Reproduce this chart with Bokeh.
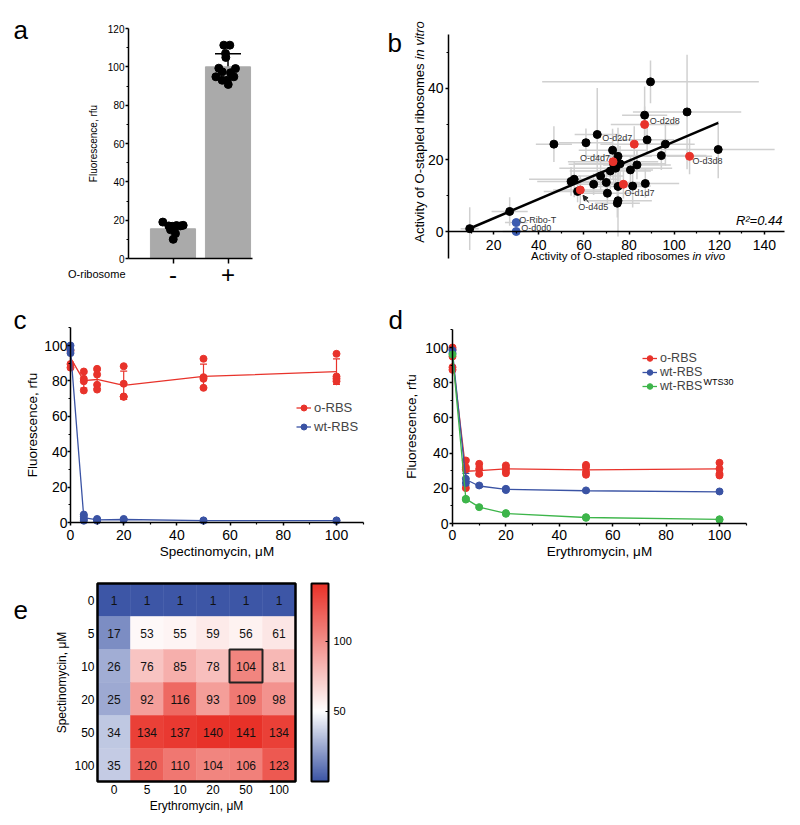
import numpy as np
from bokeh.plotting import figure
from bokeh.layouts import column, row
from bokeh.models import (Range1d, ColumnDataSource, Whisker, TeeHead, Label, Legend,
                          LegendItem, LinearColorMapper, ColorBar, FixedTicker, Arrow, NormalHead)
from bokeh.transform import transform
from bokeh.core.properties import value
from bokeh.embed import file_html
from bokeh.resources import INLINE

FONT = "Liberation Sans"
RED = "#e8332b"
BLUE = "#3a53a4"
GREEN = "#3db54a"
BAR_GREY = "#aaaaaa"
ERR_GREY = "#d0d0d0"

# ---------------- data: panel a ----------------
a_groups = ["-", "+"]
a_mean = [15.5, 100.0]
a_sd = [2.8, 6.8]
a_minus_vals = [19.0, 17.0, 16.8, 17.2, 17.0, 17.3, 15.0, 16.0, 13.0, 10.0]
a_minus_jit = [-0.185, -0.076, -0.015, 0.064, 0.136, 0.185, -0.045, 0.02, 0.045, 0.004]
a_plus_vals = [111.3, 111.3, 107.0, 104.9, 99.3, 99.1, 97.4, 96.9, 94.8, 94.8, 93.0, 93.0, 90.8]
a_plus_jit = [-0.076, 0.033, -0.045, -0.04, -0.167, 0.136, -0.106, 0.045, -0.22, 0.106, -0.015, -0.106, 0.004]

# ---------------- data: panel b ----------------
b_x = [9.4, 27.1, 46.7, 54.3, 55.7, 57.2, 60.9, 64.3, 65.9, 67.4, 69.9, 70.4, 71.7, 72.7, 73.2, 74.1,
       75.1, 75.1, 75.1, 74.8, 76.0, 80.6, 81.6, 83.5, 86.9, 88.0, 87.2, 89.5, 94.3, 96.1, 105.7, 119.5]
b_y = [0.8, 5.6, 24.4, 14.0, 14.6, 11.2, 24.8, 13.2, 27.1, 15.5, 13.7, 10.7, 16.9, 22.7, 18.8, 17.7,
       21.0, 12.6, 8.6, 7.9, 18.9, 17.2, 12.7, 18.6, 32.5, 25.6, 13.4, 41.8, 21.2, 24.4, 33.4, 22.9]
b_xerr = [4, 8, 8, 15, 20, 15, 12, 12, 10, 10, 15, 12, 18, 15, 20, 25,
          15, 12, 15, 10, 20, 10, 8, 15, 10, 12, 15, 48, 20, 13, 24, 25]
b_yerr = [6, 4, 5, 4, 5, 3, 4, 3, 13, 4, 4, 3, 5, 6, 5, 6,
          8, 4, 10, 4, 5, 4, 6, 4, 8, 4, 4, 6, 4, 6, 16, 8]
b_red_names = ["O-d4d5", "O-d4d7", "O-d1d7", "O-d2d7", "O-d2d8", "O-d3d8"]
b_red_x = [58.4, 72.9, 77.5, 82.3, 86.9, 106.8]
b_red_y = [11.6, 19.5, 13.2, 24.4, 29.9, 21.0]
b_red_xerr = [12, 20, 10, 15, 15, 10]
b_red_yerr = [4, 5, 4, 5, 5, 5]
b_blue_names = ["O-Ribo-T", "O-d0d0"]
b_blue_x = [30.0, 30.0]
b_blue_y = [2.5, 0.0]
b_blue_xerr = [5, 6]
b_blue_yerr = [1, 0]
b_fit_slope = 0.268
b_fit_intercept = -1.68
b_r2 = 0.44

# ---------------- data: panel c ----------------
c_conc = [0, 5, 10, 20, 50, 100]
c_orbs_reps = [[97.0, 89.5, 87.5], [85.3, 81.2, 79.8, 74.6], [86.8, 83.6, 77.8, 75.1],
               [88.3, 78.4, 71.2, 71.0], [92.5, 82.1, 81.2, 76.1], [95.3, 82.5, 81.2, 79.8]]
c_orbs_mean = [93.0, 80.2, 80.8, 77.5, 82.5, 85.2]
c_orbs_sd = [4.5, 4.2, 5.0, 8.0, 7.0, 7.2]
c_wt_reps = [[100.0, 97.6, 95.7], [4.5, 3.5, 2.0, 1.0], [2.0, 1.5, 1.0], [2.0, 1.5], [1.2, 1.0], [1.2, 1.0]]
c_wt_mean = [97.8, 2.8, 1.5, 1.7, 1.1, 1.1]
c_wt_sd = [2.2, 1.5, 0.5, 0.4, 0.2, 0.2]

# ---------------- data: panel d ----------------
d_conc = [0, 5, 10, 20, 50, 100]
d_orbs_reps = [[100.0, 99.0, 94.9, 88.8, 87.3], [35.8, 32.0, 30.7, 20.1], [33.9, 31.0, 28.2],
               [33.0, 31.6, 30.1, 28.6], [33.3, 32.0, 29.2, 27.7], [34.5, 31.1, 28.2, 27.3]]
d_orbs_mean = [94.0, 29.7, 30.0, 31.0, 30.5, 31.0]
d_orbs_sd = [5.5, 6.7, 2.5, 2.0, 2.5, 3.0]
d_wt_reps = [[98.3, 96.8], [25.4, 23.0], [21.6], [19.7, 19.0], [18.8], [18.2]]
d_wt_mean = [97.5, 25.0, 21.3, 19.4, 18.6, 18.0]
d_wt_sd = [1.0, 3.5, 0.8, 1.2, 0.6, 0.5]
d_wts_reps = [[96.0], [14.0, 13.6], [9.3], [5.9, 5.5], [3.6, 3.2], [2.4, 2.1]]
d_wts_mean = [96.0, 14.0, 9.3, 5.7, 3.4, 2.3]
d_wts_sd = [1.0, 0.8, 0.6, 0.5, 0.4, 0.3]

# ---------------- data: panel e ----------------
e_ery = ["0", "5", "10", "20", "50", "100"]
e_spec = ["0", "5", "10", "20", "50", "100"]
e_vals = [[1, 1, 1, 1, 1, 1],
          [17, 53, 55, 59, 56, 61],
          [26, 76, 85, 78, 104, 81],
          [25, 92, 116, 93, 109, 98],
          [34, 134, 137, 140, 141, 134],
          [35, 120, 110, 104, 106, 123]]
e_highlight = ("50", "10")
e_cb_low, e_cb_mid, e_cb_high = 0, 50, 141
e_cb_ticks = [50, 100]


# ---------------- helpers ----------------
class Panel:
    """figure box (page px) + linear px mapping of data -> page px"""

    def __init__(self, box, xmap, ymap):
        self.x0, self.y0, self.w, self.h = box
        self.ax, self.bx = xmap
        self.ay, self.by = ymap
        self.p = figure(width=self.w, height=self.h,
                        x_range=Range1d((self.x0 - self.ax) / self.bx, (self.x0 + self.w - self.ax) / self.bx),
                        y_range=Range1d((self.ay - (self.y0 + self.h)) / self.by, (self.ay - self.y0) / self.by),
                        output_backend="svg", toolbar_location=None, min_border=0,
                        min_border_left=0, min_border_right=0, min_border_top=0, min_border_bottom=0)
        p = self.p
        p.xgrid.visible = False
        p.ygrid.visible = False
        p.outline_line_color = None
        p.xaxis.fixed_location = 0
        p.yaxis.fixed_location = 0
        for ax in p.axis:
            ax.axis_line_color = "black"
            ax.axis_line_width = 1.5
            ax.major_tick_line_color = "black"
            ax.major_tick_line_width = 1.5
            ax.minor_tick_line_color = "black"
            ax.minor_tick_line_width = 1.2
            ax.major_tick_in = 0
            ax.minor_tick_in = 0
            ax.major_label_text_font = FONT
            ax.axis_label_text_font = FONT
            ax.axis_label_text_font_style = "normal"
            ax.major_label_text_color = "black"
            ax.axis_label_text_color = "black"

    def sx(self, img_x):
        return int(round(img_x - self.x0))

    def sy(self, img_y):
        return int(round(self.y0 + self.h - img_y))

    def label(self, img_x, img_y, text, size, align="left", baseline="middle", style="normal", angle=0.0,
              color="black"):
        self.p.add_layout(Label(x=self.sx(img_x), y=self.sy(img_y), x_units="screen", y_units="screen",
                                text=text, text_font=FONT, text_font_size=size, text_align=align,
                                text_baseline=baseline, text_font_style=style, angle=angle,
                                text_color=color))

    def letter(self, img_x, img_y, txt):
        self.label(img_x, img_y, txt, "26px", align="left", baseline="alphabetic")


def flatten(conc, reps):
    xs, ys = [], []
    for c, r in zip(conc, reps):
        for v in r:
            xs.append(c)
            ys.append(v)
    return xs, ys


# ---------------- panel a ----------------
A = Panel((0, 0, 380, 290), (117.5, 55.0), (258.0, 230.0 / 120.0))
fa = A.p
a_pos = list(range(1, len(a_groups) + 1))
a_axis_x = 0.191
fa.vbar(x=a_pos, top=a_mean, width=0.82, color=BAR_GREY)
fa.scatter(x=[a_pos[0] + j for j in a_minus_jit], y=a_minus_vals, size=8, color="black")
fa.scatter(x=[a_pos[1] + j for j in a_plus_jit], y=a_plus_vals, size=8, color="black")
a_src = ColumnDataSource(dict(x=a_pos, lo=[m - s for m, s in zip(a_mean, a_sd)],
                              hi=[m + s for m, s in zip(a_mean, a_sd)]))
fa.add_layout(Whisker(base="x", lower="lo", upper="hi", source=a_src, line_color="black", line_width=1.5,
                      upper_head=TeeHead(size=26, line_color="black", line_width=1.5),
                      lower_head=TeeHead(size=26, line_color="black", line_width=1.5)))
fa.yaxis.fixed_location = a_axis_x
fa.yaxis.bounds = (0, 120)
fa.xaxis.bounds = (a_axis_x, 2.445)
fa.yaxis.ticker = FixedTicker(ticks=list(range(0, 121, 20)), minor_ticks=list(range(10, 120, 20)))
fa.yaxis.axis_label = "Fluorescence, rfu"
fa.yaxis.axis_label_text_font_size = "10px"
fa.yaxis.major_label_text_font_size = "10px"
fa.yaxis.major_tick_out = 3
fa.yaxis.minor_tick_out = 2
fa.yaxis.major_label_standoff = 1
fa.yaxis.axis_label_standoff = 6
fa.xaxis.ticker = FixedTicker(ticks=a_pos, minor_ticks=[])
fa.xaxis.major_label_overrides = {p: g for p, g in zip(a_pos, a_groups)}
fa.xaxis.major_label_text_font_size = "24px"
fa.xaxis.major_tick_out = 5
fa.xaxis.major_label_standoff = 2
A.label(125, 273, "O-ribosome", "11px", align="right")
A.letter(13, 29, "a")

# ---------------- panel b ----------------
B = Panel((380, 0, 420, 290), (448.0, 2.257), (231.0, 3.58))
fb = B.p
all_x = np.array(b_x + b_red_x + b_blue_x)
all_y = np.array(b_y + b_red_y + b_blue_y)
all_xe = np.array(b_xerr + b_red_xerr + b_blue_xerr)
all_ye = np.array(b_yerr + b_red_yerr + b_blue_yerr)
fb.segment(x0=all_x - all_xe, x1=all_x + all_xe, y0=all_y, y1=all_y, line_color=ERR_GREY, line_width=1.5)
fb.segment(x0=all_x, x1=all_x, y0=all_y - all_ye, y1=all_y + all_ye, line_color=ERR_GREY, line_width=1.5)
fit_x = np.array([min(b_x), max(b_x)])
fb.line(x=fit_x, y=b_fit_slope * fit_x + b_fit_intercept, line_color="black", line_width=2.5)
fb.scatter(x=b_x, y=b_y, size=8, color="black")
fb.scatter(x=b_red_x, y=b_red_y, size=8, color=RED)
fb.scatter(x=b_blue_x, y=b_blue_y, size=8, color="#3b5bb0")
lab_src = ColumnDataSource(dict(
    x=b_red_x + b_blue_x, y=b_red_y + b_blue_y, text=b_red_names + b_blue_names,
    dx=[13, -3, 1, -2, 5, 3, 3, 5],
    dy=[17, -4, 9, -6, -3, 5, -3, -4],
    align=["center", "right", "left", "right", "left", "left", "left", "left"]))
fb.text(x="x", y="y", text="text", x_offset="dx", y_offset="dy", text_align="align",
        text_baseline="middle", text_font=value(FONT), text_font_size="9px", text_color="#333333",
        source=lab_src)
fb.add_layout(Arrow(end=NormalHead(size=5, fill_color="#222222", line_color="#222222"),
                    x_start=b_red_x[0] + 3.7, y_start=b_red_y[0] - 3.5,
                    x_end=b_red_x[0] + 1.2, y_end=b_red_y[0] - 1.5, line_width=1, line_color="#222222"))
fb.xaxis.bounds = (0, 149)
fb.yaxis.bounds = (-7.5, 55)
fb.xaxis.ticker = FixedTicker(ticks=list(range(20, 141, 20)), minor_ticks=list(range(10, 140, 20)))
fb.yaxis.ticker = FixedTicker(ticks=[0, 20, 40], minor_ticks=[10, 30, 50])
for ax in fb.axis:
    ax.major_label_text_font_size = "14px"
    ax.major_tick_out = 3
    ax.minor_tick_out = 2
fb.xaxis.major_label_standoff = 5
fb.yaxis.major_label_standoff = 2
B.label(419, 63, "Activity of O-stapled ribosomes", "13px", align="right", angle=np.pi / 2)
B.label(419, 59, "in vitro", "13px", align="left", style="italic", angle=np.pi / 2)
B.label(689, 255, "Activity of O-stapled ribosomes", "11.5px", align="right")
B.label(692, 255, "in vivo", "11.5px", align="left", style="italic")
B.label(782, 220, f"R\u00b2={b_r2:.2f}", "13px", align="right", style="italic")
B.letter(387, 42, "b")


# ---------------- panels c, d ----------------
def dose_panel(box, xmap, ymap, xlabel, series, legend_img, row_h, leg_font, lab_standoffs):
    P = Panel(box, xmap, ymap)
    p = P.p
    items = []
    for name, color, conc, reps, mean, sd in series:
        ln = p.line(x=conc, y=mean, line_color=color, line_width=1.3)
        xs, ys = flatten(conc, reps)
        sc = p.scatter(x=xs, y=ys, size=7, color=color)
        src = ColumnDataSource(dict(x=conc, lo=[m - s for m, s in zip(mean, sd)],
                                    hi=[m + s for m, s in zip(mean, sd)]))
        p.add_layout(Whisker(base="x", lower="lo", upper="hi", source=src, line_color=color, line_width=1.2,
                             upper_head=TeeHead(size=7, line_color=color, line_width=1.2),
                             lower_head=TeeHead(size=7, line_color=color, line_width=1.2)))
        items.append(LegendItem(label=name, renderers=[ln, sc]))
    p.xaxis.bounds = (0, 110)
    p.yaxis.bounds = (0, 110)
    p.xaxis.ticker = FixedTicker(ticks=list(range(0, 101, 20)), minor_ticks=list(range(10, 111, 20)))
    p.yaxis.ticker = FixedTicker(ticks=list(range(0, 101, 20)), minor_ticks=list(range(10, 111, 20)))
    for ax in p.axis:
        ax.major_label_text_font_size = "14px"
        ax.axis_label_text_font_size = "13.5px"
        ax.major_tick_out = 3
        ax.minor_tick_out = 2
    xs_lab, ys_lab, xs_tit, ys_tit = lab_standoffs
    p.xaxis.major_label_standoff = xs_lab
    p.yaxis.major_label_standoff = ys_lab
    p.xaxis.axis_label = xlabel
    p.yaxis.axis_label = "Fluorescence, rfu"
    p.xaxis.axis_label_standoff = xs_tit
    p.yaxis.axis_label_standoff = ys_tit
    n = len(items)
    leg = Legend(items=items, location=(P.sx(legend_img[0]), P.sy(legend_img[1] + n * row_h)),
                 border_line_color=None, background_fill_alpha=0,
                 label_text_font=FONT, label_text_font_size=leg_font, label_text_line_height=1.0,
                 glyph_width=15, glyph_height=row_h, label_height=row_h, label_standoff=3,
                 spacing=0, padding=0, margin=0)
    p.add_layout(leg)
    return P


C = dose_panel((0, 290, 385, 280), (70.0, 2.66), (522.0, 1.77), "Spectinomycin, \u03bcM",
               [("o-RBS", RED, c_conc, c_orbs_reps, c_orbs_mean, c_orbs_sd),
                ("wt-RBS", BLUE, c_conc, c_wt_reps, c_wt_mean, c_wt_sd)],
               (296, 398), 19, "13px", (4, 0, 1, 1))
C.letter(13, 319, "c")
fc = C.p

D = dose_panel((385, 290, 415, 280), (452.0, 2.67), (523.0, 1.76), "Erythromycin, \u03bcM",
               [("o-RBS", RED, d_conc, d_orbs_reps, d_orbs_mean, d_orbs_sd),
                ("wt-RBS", BLUE, d_conc, d_wt_reps, d_wt_mean, d_wt_sd),
                ("wt-RBS", GREEN, d_conc, d_wts_reps, d_wts_mean, d_wts_sd)],
               (642, 351), 14, "12.5px", (3, 1, 1, 3))
D.label(703, 381, "WTS30", "9px", align="left")
D.letter(388, 319, "d")
fd = D.p


# ---------------- panel e ----------------
def lerp(c1, c2, t):
    return "#%02x%02x%02x" % tuple(int(round(a + (b - a) * t)) for a, b in zip(c1, c2))


c_blue, c_white, c_red = (58, 83, 164), (255, 255, 255), (232, 48, 39)
palette = []
N = 256
for i in range(N):
    v = e_cb_low + (e_cb_high - e_cb_low) * (i + 0.5) / N
    if v < e_cb_mid:
        palette.append(lerp(c_blue, c_white, (v - e_cb_low) / (e_cb_mid - e_cb_low)))
    else:
        palette.append(lerp(c_white, c_red, (v - e_cb_mid) / (e_cb_high - e_cb_mid)))
mapper = LinearColorMapper(palette=palette, low=e_cb_low, high=e_cb_high)

E = Panel((0, 570, 400, 255), (97.0, 33.0), (781.0, 33.0))
fe = E.p
ncol, nrow = len(e_ery), len(e_spec)
ex, ey, ev = [], [], []
for si in range(nrow):
    for ei in range(ncol):
        ex.append(ei + 0.5)
        ey.append(nrow - si - 0.5)
        ev.append(e_vals[si][ei])
e_src = ColumnDataSource(dict(x=ex, y=ey, val=ev, label=[str(v) for v in ev]))
fe.rect(x="x", y="y", width=1, height=1, source=e_src, fill_color=transform("val", mapper),
        line_color=transform("val", mapper), line_width=0.5)
fe.text(x="x", y="y", text="label", source=e_src, text_align="center", text_baseline="middle",
        text_font=value(FONT), text_font_size="12px", text_color="#111111")
hx = e_ery.index(e_highlight[0]) + 0.5
hy = nrow - e_spec.index(e_highlight[1]) - 0.5
fe.rect(x=[hx], y=[hy], width=1, height=1, fill_alpha=0, line_color="#222222", line_width=2)
fe.rect(x=[ncol / 2], y=[nrow / 2], width=ncol, height=nrow, fill_alpha=0, line_color="black", line_width=2.5)
fe.xaxis.bounds = (0, ncol)
fe.yaxis.bounds = (0, nrow)
fe.xaxis.ticker = FixedTicker(ticks=[i + 0.5 for i in range(ncol)], minor_ticks=[])
fe.xaxis.major_label_overrides = {i + 0.5: e_ery[i] for i in range(ncol)}
fe.yaxis.ticker = FixedTicker(ticks=[nrow - j - 0.5 for j in range(nrow)], minor_ticks=[])
fe.yaxis.major_label_overrides = {nrow - j - 0.5: e_spec[j] for j in range(nrow)}
for ax in fe.axis:
    ax.axis_line_color = None
    ax.major_tick_line_color = None
    ax.minor_tick_line_color = None
    ax.major_tick_out = 0
    ax.major_label_text_font_size = "12px"
    ax.axis_label_text_font_size = "12px"
    ax.major_label_standoff = 3
    ax.axis_label_standoff = 2
fe.xaxis.axis_label = "Erythromycin, \u03bcM"
fe.yaxis.axis_label = "Spectinomycin, \u03bcM"
cb = ColorBar(color_mapper=mapper, ticker=FixedTicker(ticks=e_cb_ticks), width=17, height=198,
              location=(E.sx(311), E.sy(781)), padding=0, margin=0,
              bar_line_color="black", bar_line_width=2,
              major_tick_line_color="black", major_tick_in=3, major_tick_out=0,
              minor_tick_line_color=None, label_standoff=5,
              major_label_text_font=FONT, major_label_text_font_size="11px",
              major_label_text_color="black",
              border_line_color=None, background_fill_alpha=0)
fe.add_layout(cb)
E.letter(13, 609, "e")

layout = column(row(fa, fb), row(fc, fd), row(fe))
open("out.html", "w").write(file_html(layout, INLINE))
